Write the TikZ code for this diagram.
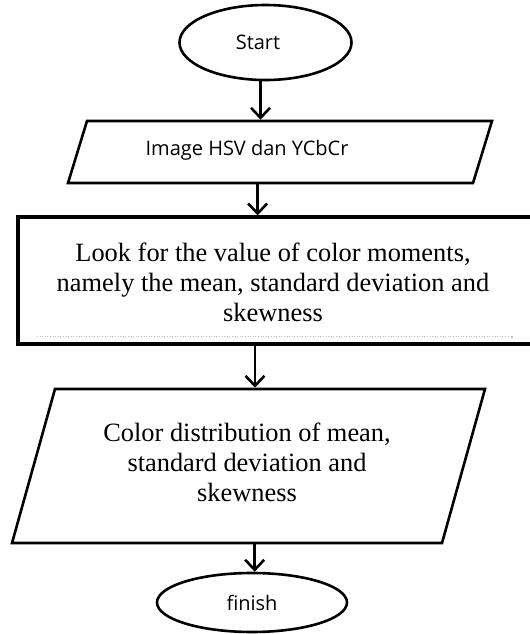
\documentclass[tikz,border=0pt]{standalone}
\usepackage{fontspec}
\setmainfont{Liberation Serif}
\newfontfamily\uisans{Open Sans}
\usetikzlibrary{arrows.meta}
\usetikzlibrary{shapes.geometric}
\tikzset{term/.style = {draw, ellipse, inner sep = 0, line width = 1.3pt,
                        font = \uisans\fontsize{10}{12}\selectfont}}
\tikzset{io/.style = {draw, rectangle, inner sep = 0, transform shape, line width = 1.3pt}}
\tikzset{proc/.style = {draw, rectangle, inner sep = 0, line width = 1.6pt}}
\tikzset{serif/.style = {align = center, font = \fontsize{13.2}{15}\selectfont}}
\tikzset{flow/.style = {line width = 1.3pt, -{Straight Barb[length=5pt, width=9.5pt]}}}
\definecolor{mgray}{rgb}{0.75, 0.75, 0.75}

\begin{document}
\begin{tikzpicture}[x=0.5pt, y=-0.5pt]
      \useasboundingbox (0, 0) rectangle (530, 634);
      \fill [white] (0, 0) rectangle (530, 634);

      \node [term, minimum width=86pt, minimum height=37.5pt] (start) at (265.5, 42.5) {};
      \node [font=\uisans\fontsize{10}{12}\selectfont] (starttext) at (258, 42) {Start};

      \begin{scope}[shift={(280, 152)}]
        \node [io, xslant=0.306, minimum width=202.5pt, minimum height=31pt] (input) at (0, 0) {};
      \end{scope}
      \node [font=\uisans\fontsize{10}{12}\selectfont] (inputtext) at (247, 150) {Image HSV dan YCbCr};

      \node [proc, minimum width=261pt, minimum height=63.5pt] (moments) at (279, 280.5) {};
      \node [serif] (momentstext) at (273, 282) {Look for the value of color moments,\\
        namely the mean, standard deviation and\\ skewness};
      \draw [mgray, densely dotted, line width=0.3pt] (37, 336) -- (510, 336);
      \fill (512, 337) circle [radius=0.6];

      \begin{scope}[shift={(248.5, 466)}]
        \node [io, xslant=0.279, minimum width=215pt, minimum height=77pt] (output) at (0, 0) {};
      \end{scope}
      \node [serif] (outputtext) at (247, 462) {Color distribution of mean,\\
        standard deviation and\\ skewness};

      \node [term, minimum width=95pt, minimum height=29.5pt] (finish) at (252, 602.5) {finish};

      \draw [flow] ([xshift=-2.5pt]start.south) -- ([xshift=-2.5pt]start.south |- input.north);
      \draw [flow] ([xshift=-6.25pt]input.south) -- ([xshift=-6.25pt]input.south |- moments.north);
      \draw [flow] ([xshift=-12pt]moments.south) -- ([xshift=-12pt]moments.south |- output.north);
      \draw [flow] ([xshift=14pt]output.south) -- ([xshift=14pt]output.south |- finish.north);
    \end{tikzpicture}
\end{document}
